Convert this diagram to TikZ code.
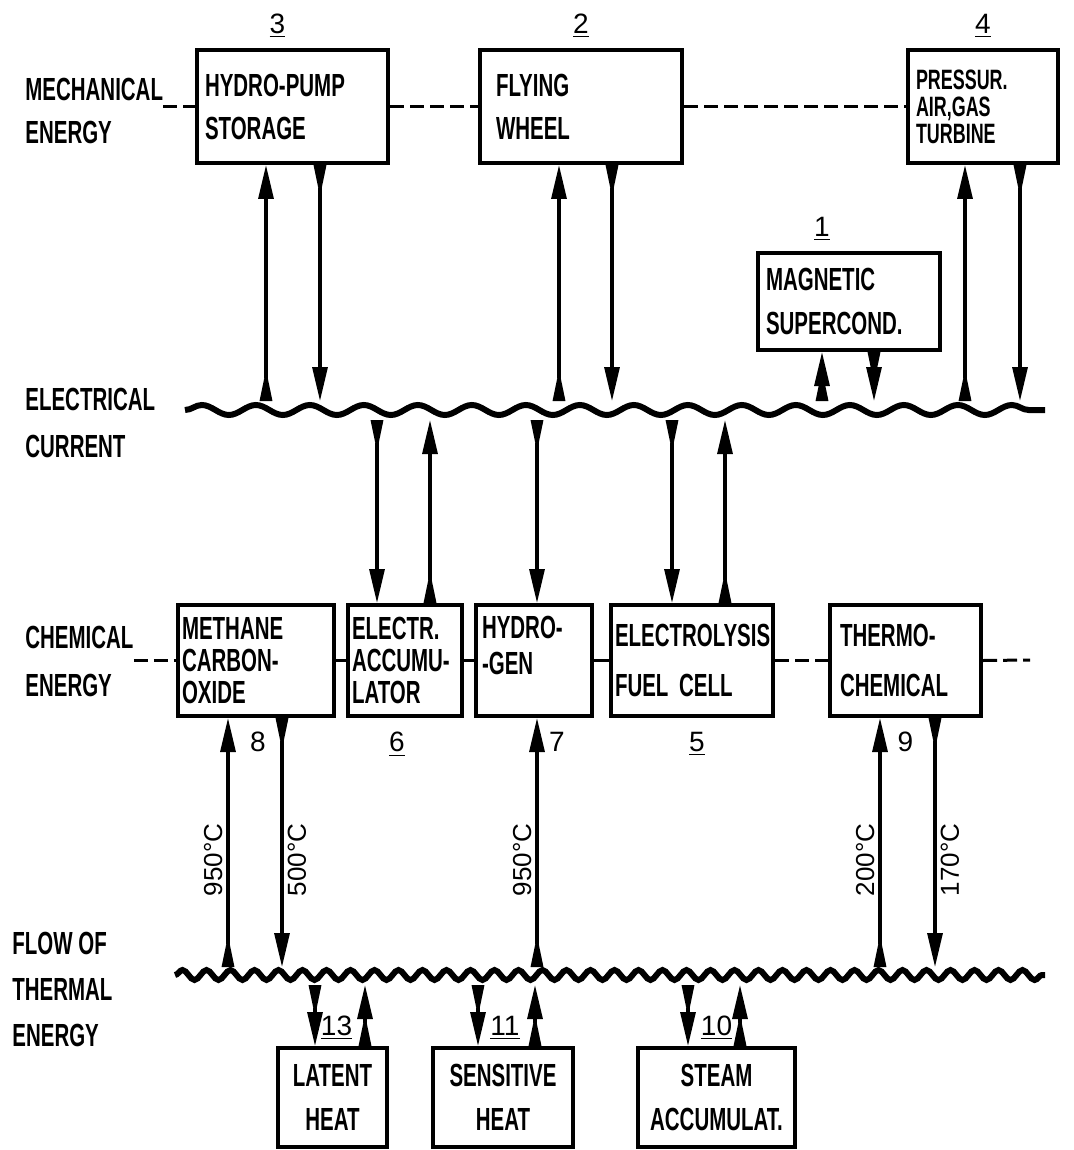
\documentclass[tikz,border=0pt]{standalone}
\usepackage{fontspec}
\setmainfont{Liberation Sans}[FakeStretch=0.64]
\newfontfamily\numfont{Liberation Sans}
\usetikzlibrary{arrows.meta,positioning,decorations.pathmorphing}

\begin{document}
\begin{tikzpicture}[
  x=0.5pt, y=-0.5pt,
  box/.style={draw,line width=2pt,align=left,inner xsep=4pt,inner ysep=0pt,font=\fontsize{16}{#1}\selectfont\bfseries},
  box/.default=21.5,
  side/.style={align=left,inner sep=0pt,anchor=west,font=\fontsize{16}{#1}\selectfont\bfseries},
  side/.default=23,
  num/.style={inner sep=1pt,font=\fontsize{14}{16}\numfont},
  temp/.style={inner sep=2pt,rotate=90,font=\fontsize{13}{15}\numfont},
  flow/.style={line width=1.6pt,{Triangle[reversed,length=16pt,width=6pt]}-{Triangle[length=17pt,width=7.5pt]}},
  link/.style={line width=1.5pt},
  dashlink/.style={link,dash pattern=on 7pt off 3pt},
  wave/.style={line width=3pt,decorate,decoration={snake,segment length=#1,amplitude=2.5pt}}
]
\useasboundingbox (0,0) rectangle (1073,1150);

% levels
\node[side=21.5] (mech) at (25,111) {MECHANICAL\\ENERGY};
\node[side=23.5] (elec) at (25,423) {ELECTRICAL\\CURRENT};
\node[side=24] (chem) at (25,661) {CHEMICAL\\ENERGY};
\node[side=23] (therm) at (12,989) {FLOW OF\\THERMAL\\ENERGY};

% mechanical storage
\node[box,text width=87.5pt,minimum height=56.5pt] (hydro) at (292.5,106.5) {HYDRO-PUMP\\STORAGE};
\node[box,text width=85pt,minimum height=56.5pt,inner xsep=8pt] (wheel) at (581,106.5) {FLYING\\WHEEL};
\node[box,text width=67pt,minimum height=56.5pt,font=\fontsize{14}{13.5}\selectfont\bfseries] (turbine) at (983,106.5) {PRESSUR.\\AIR,GAS\\TURBINE};
\node[box=22,text width=83pt,minimum height=48.5pt] (magnet) at (849,301.5) {MAGNETIC\\SUPERCOND.};
\node[num,above=4pt of hydro,xshift=-7.5pt] (n3) {\underline{3}};
\node[num,above=4pt of wheel] (n2) {\underline{2}};
\node[num,above=4pt of turbine] (n4) {\underline{4}};
\node[num,above=4pt of magnet,xshift=-13.5pt] (n1) {\underline{1}};
\draw[dashlink] (mech.east |- hydro.west) -- (hydro.west);
\draw[dashlink] (hydro.east) -- (wheel.west);
\draw[dashlink] (wheel.east) -- (turbine.west);

% electrical current
\coordinate (ew) at (185,410);
\coordinate (ee) at (1045,410);
\coordinate (eup) at (185,401);
\coordinate (edn) at (185,420);
\draw[wave=27pt] (ew) -- (ee);
\draw[flow] ([xshift=-13.25pt]hydro.south |- eup) -- ([xshift=-13.25pt]hydro.south);
\draw[flow] ([xshift=13.75pt]hydro.south) -- ([xshift=13.75pt]hydro.south |- eup);
\draw[flow] ([xshift=-11pt]wheel.south |- eup) -- ([xshift=-11pt]wheel.south);
\draw[flow] ([xshift=15.5pt]wheel.south) -- ([xshift=15.5pt]wheel.south |- eup);
\draw[flow] ([xshift=-9pt]turbine.south |- eup) -- ([xshift=-9pt]turbine.south);
\draw[flow] ([xshift=18.5pt]turbine.south) -- ([xshift=18.5pt]turbine.south |- eup);
\draw[flow] ([xshift=-13.5pt]magnet.south |- eup) -- ([xshift=-13.5pt]magnet.south);
\draw[flow] ([xshift=12.5pt]magnet.south) -- ([xshift=12.5pt]magnet.south |- eup);

% chemical storage
\node[box=16,text width=74pt,inner xsep=2pt,minimum height=55.5pt] (meth) at (256,660.5) {METHANE\\CARBON-\\OXIDE};
\node[box=16,text width=53pt,inner xsep=2pt,minimum height=55.5pt] (accu) at (405,660.5) {ELECTR.\\ACCUMU-\\LATOR};
\node[box=18,text width=52pt,inner xsep=3pt,minimum height=55.5pt] (hgen) at (534,660.5) {HYDRO-\\-GEN\\[-3pt]\mbox{}};
\node[box=25,text width=77pt,inner xsep=2pt,minimum height=55.5pt] (elys) at (692,660.5) {ELECTROLYSIS\\FUEL CELL};
\node[box=25,text width=65.5pt,inner xsep=5pt,minimum height=55.5pt] (thermo) at (905.5,660.5) {THERMO-\\CHEMICAL};
\node[num,below=6pt of meth,xshift=1pt] (n8) {8};
\node[num,below=6pt of accu,xshift=-4pt] (n6) {\underline{6}};
\node[num,below=6pt of hgen,xshift=11.5pt] (n7) {7};
\node[num,below=6pt of elys,xshift=2.5pt] (n5) {\underline{5}};
\node[num,below=6pt of thermo] (n9) {9};
\coordinate (chemend) at (1030,660);
\draw[dashlink] (chem.east |- meth.west) -- (meth.west);
\draw[link] (meth.east) -- (accu.west);
\draw[link] (accu.east) -- (hgen.west);
\draw[link] (hgen.east) -- (elys.west);
\draw[dashlink] (elys.east) -- (thermo.west);
\draw[dashlink] (thermo.east) -- (chemend);
\draw[flow] ([xshift=-14pt]accu.north |- edn) -- ([xshift=-14pt]accu.north);
\draw[flow] ([xshift=12.5pt]accu.north) -- ([xshift=12.5pt]accu.north |- edn);
\draw[flow] ([xshift=1.5pt]hgen.north |- edn) -- ([xshift=1.5pt]hgen.north);
\draw[flow] ([xshift=-10pt]elys.north |- edn) -- ([xshift=-10pt]elys.north);
\draw[flow] ([xshift=16.5pt]elys.north) -- ([xshift=16.5pt]elys.north |- edn);

% flow of thermal energy
\coordinate (tw) at (175,975);
\coordinate (te) at (1045,975);
\coordinate (tup) at (175,967);
\coordinate (tdn) at (175,985);
\draw[wave=12pt] (tw) -- (te);
\draw[flow] ([xshift=-14pt]meth.south |- tup) -- node[temp,pos=0.43,anchor=south] {950°C} ([xshift=-14pt]meth.south);
\draw[flow] ([xshift=13pt]meth.south) -- node[temp,pos=0.57,anchor=north] {500°C} ([xshift=13pt]meth.south |- tup);
\draw[flow] ([xshift=1.5pt]hgen.south |- tup) -- node[temp,pos=0.43,anchor=south] {950°C} ([xshift=1.5pt]hgen.south);
\draw[flow] ([xshift=-12.75pt]thermo.south |- tup) -- node[temp,pos=0.43,anchor=south] {200°C} ([xshift=-12.75pt]thermo.south);
\draw[flow] ([xshift=14.75pt]thermo.south) -- node[temp,pos=0.57,anchor=north] {170°C} ([xshift=14.75pt]thermo.south |- tup);

% thermal storage
\node[box=22,align=center,inner xsep=0pt,text width=54.5pt,minimum height=49.5pt] (latent) at (332.5,1097.5) {LATENT\\HEAT};
\node[box=22,align=center,inner xsep=0pt,text width=70pt,minimum height=49.5pt] (sens) at (503,1097.5) {SENSITIVE\\HEAT};
\node[box=22,align=center,inner xsep=0pt,text width=78.5pt,minimum height=49.5pt] (steam) at (716.5,1097.5) {STEAM\\ACCUMULAT.};
\node[num,above=2pt of latent,xshift=2pt] (n13) {\underline{13}};
\node[num,above=2pt of sens,xshift=1pt] (n11) {\underline{11}};
\node[num,above=2pt of steam] (n10) {\underline{10}};
\draw[flow] ([xshift=-8.75pt]latent.north |- tdn) -- ([xshift=-8.75pt]latent.north);
\draw[flow] ([xshift=16.25pt]latent.north) -- ([xshift=16.25pt]latent.north |- tdn);
\draw[flow] ([xshift=-12.5pt]sens.north |- tdn) -- ([xshift=-12.5pt]sens.north);
\draw[flow] ([xshift=16pt]sens.north) -- ([xshift=16pt]sens.north |- tdn);
\draw[flow] ([xshift=-14.25pt]steam.north |- tdn) -- ([xshift=-14.25pt]steam.north);
\draw[flow] ([xshift=11.75pt]steam.north) -- ([xshift=11.75pt]steam.north |- tdn);
\end{tikzpicture}
\end{document}
